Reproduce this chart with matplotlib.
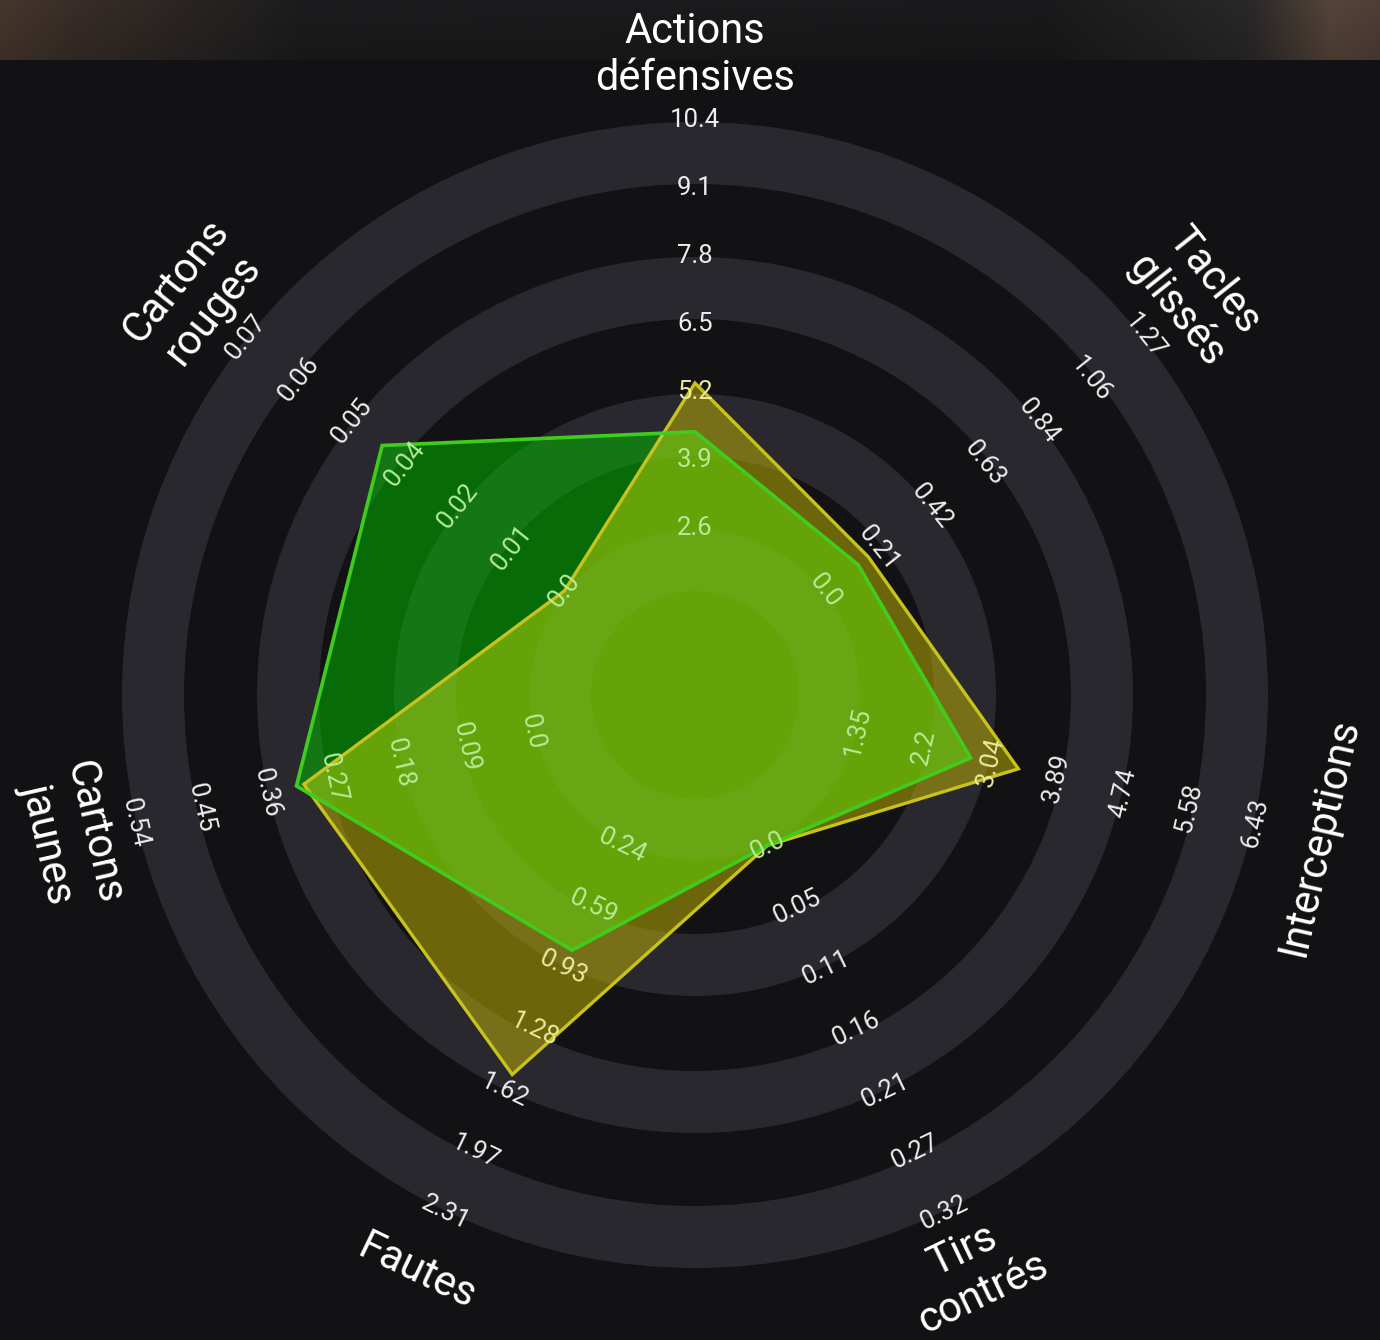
import numpy as np
import matplotlib.pyplot as plt
from matplotlib.patches import Circle, Wedge, Polygon

plt.rcParams['font.family'] = ['Roboto', 'DejaVu Sans']

# axis names, clockwise from the top
params = ['Actions\ndéfensives', 'Tacles\nglissés', 'Interceptions', 'Tirs\ncontrés',
          'Fautes', 'Cartons\njaunes', 'Cartons\nrouges']

# ring labels per axis (inner -> outer)
range_labels = [
    ['2.6', '3.9', '5.2', '6.5', '7.8', '9.1', '10.4'],
    ['0.0', '0.21', '0.42', '0.63', '0.84', '1.06', '1.27'],
    ['1.35', '2.2', '3.04', '3.89', '4.74', '5.58', '6.43'],
    ['0.0', '0.05', '0.11', '0.16', '0.21', '0.27', '0.32'],
    ['0.24', '0.59', '0.93', '1.28', '1.62', '1.97', '2.31'],
    ['0.0', '0.09', '0.18', '0.27', '0.36', '0.45', '0.54'],
    ['0.0', '0.01', '0.02', '0.04', '0.05', '0.06', '0.07'],
]
low = [2.6, 0.0, 1.35, 0.0, 0.24, 0.0, 0.0]
high = [10.4, 1.27, 6.43, 0.32, 2.31, 0.54, 0.07]

# the two players
green_vals = [4.44, 0.13, 2.79, 0.0, 0.83, 0.32, 0.04]
yellow_vals = [5.37, 0.17, 3.40, 0.0, 1.53, 0.31, 0.0]

BG = '#121214'
RING = '#29282f'

W, H = 1380, 1340
cx, cy = 695, 695
r_in, r_out = 167, 575      # radius of first / last ring label
r_param = 640

fig = plt.figure(figsize=(W / 100, H / 100), dpi=100, facecolor=BG)
ax = fig.add_axes([0, 0, 1, 1])
ax.set_xlim(0, W)
ax.set_ylim(H, 0)
ax.set_aspect('equal')
ax.axis('off')
ax.set_facecolor(BG)

# blurred header strip at the top
xs = np.arange(W)
anchors = [0, 80, 300, 1050, 1250, 1330, 1380]
prof_r = np.interp(xs, anchors, [70, 55, 28, 26, 42, 85, 80])
prof_g = np.interp(xs, anchors, [55, 45, 28, 26, 40, 68, 62])
prof_b = np.interp(xs, anchors, [45, 40, 30, 28, 40, 58, 55])
fade = np.linspace(1.0, 0.85, 60)[:, None]
strip = np.dstack([prof_r[None, :] * fade, prof_g[None, :] * fade, prof_b[None, :] * fade]) / 255
ax.imshow(strip, extent=[0, W, 60, 0], aspect='auto', zorder=0)

# rings, from the outside in
ring_edges = [573, 511, 438, 376, 301, 239, 165, 104]
for i, r in enumerate(ring_edges):
    ax.add_patch(Circle((cx, cy), r, facecolor=RING if i % 2 == 0 else BG,
                        edgecolor='none', zorder=1))

n = len(params)
theta = np.deg2rad(90 - np.arange(n) * 360 / n)


def to_xy(vals):
    pts = []
    for i, v in enumerate(vals):
        frac = np.clip((v - low[i]) / (high[i] - low[i]), 0, 1)
        r = r_in + frac * (r_out - r_in)
        pts.append((cx + r * np.cos(theta[i]), cy - r * np.sin(theta[i])))
    return np.array(pts)


yel_xy = to_xy(yellow_vals)
grn_xy = to_xy(green_vals)

yel = Polygon(yel_xy, closed=True, facecolor='#ab9e03', alpha=0.6, edgecolor='none', zorder=2)
ax.add_patch(yel)
grn = Polygon(grn_xy, closed=True, facecolor='#01a800', alpha=0.6, edgecolor='none', zorder=3)
ax.add_patch(grn)
both = Polygon(yel_xy, closed=True, facecolor='#8cb30e', alpha=0.6, edgecolor='none', zorder=4)
ax.add_patch(both)
both.set_clip_path(grn)

# faint rings seen through the fills
for clip in (yel, grn):
    for r_o, r_i in [(573, 511), (438, 376), (301, 239), (165, 104)]:
        w = Wedge((cx, cy), r_o, 0, 360, width=r_o - r_i, facecolor='white',
                  alpha=0.018, edgecolor='none', zorder=4.5)
        ax.add_patch(w)
        w.set_clip_path(clip)

ax.add_patch(Polygon(yel_xy, closed=True, fill=False, edgecolor='#c8c21c', lw=2.4, zorder=5))
ax.add_patch(Polygon(grn_xy, closed=True, fill=False, edgecolor='#3fcc1c', lw=2.6, zorder=6))

yel_path = yel.get_transform().transform_path(yel.get_path())
grn_path = grn.get_transform().transform_path(grn.get_path())

for i in range(n):
    deg = np.rad2deg(theta[i])
    deg = (deg + 180) % 360 - 180
    rot = deg - 90 if deg > 0 else deg + 90
    c, s = np.cos(theta[i]), np.sin(theta[i])
    ax.text(cx + r_param * c, cy - r_param * s, params[i], rotation=rot,
            rotation_mode='anchor', ha='center', va='center', fontsize=30,
            color='white', linespacing=1.2, zorder=7)
    for k, lab in enumerate(range_labels[i]):
        r = r_in + k * (r_out - r_in) / 6
        px, py = cx + r * c, cy - r * s
        probe = ax.transData.transform((cx + (r - 4) * c, cy - (r - 4) * s))
        col = '#ededed'
        if grn_path.contains_point(probe):
            col = '#b4ec98'
        elif yel_path.contains_point(probe):
            col = '#ecea9e'
        ax.text(px, py, lab, rotation=rot, rotation_mode='anchor', ha='center',
                va='center', fontsize=18.5, color=col, zorder=7)

fig.savefig('out.png', dpi=100, facecolor=BG)
